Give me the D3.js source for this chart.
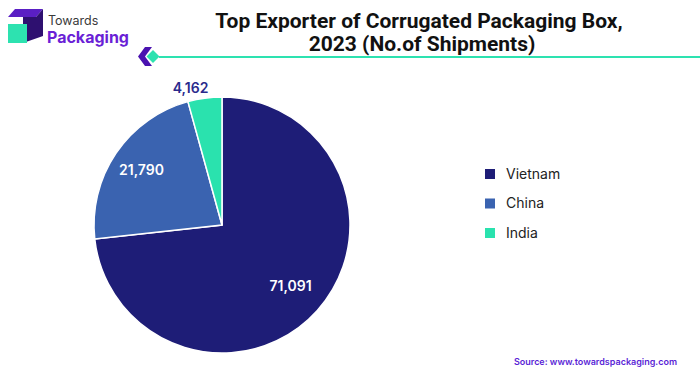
<!DOCTYPE html>
<html>
<head>
<meta charset="utf-8">
<script src="https://cdn.jsdelivr.net/npm/d3@7"></script>
<style>
  body { margin: 0; background: #fff; }
  svg { display: block; font-family: Inter, "Noto Sans", sans-serif; }
</style>
</head>
<body>
<div id="chart"></div>
<script>
const countries = ["Vietnam", "China", "India"];
const shipments = [71091, 21790, 4162];
const colors = ["#1e1d77", "#3a63b0", "#2ae2ae"];

const width = 700, height = 376;
const svg = d3.select("#chart").append("svg")
  .attr("width", width)
  .attr("height", height);

// logo
const logo = svg.append("g");
logo.append("path").attr("d", "M8,17 L15,9 L43,9 L36,17 Z").attr("fill", "#5a1fc4");
logo.append("path").attr("d", "M23,17 L36,17 L43,9 L43,36 L23,43 Z").attr("fill", "#2e1070");
logo.append("rect").attr("x", 8).attr("y", 24).attr("width", 19).attr("height", 19).attr("fill", "#2de2b0");
logo.append("text").attr("x", 48).attr("y", 25)
  .style("font-size", "12.5px").style("fill", "#3a3a3a").text("Towards");
logo.append("text").attr("x", 47).attr("y", 43)
  .style("font-size", "16px").style("font-weight", "700").style("fill", "#6a1fd6").text("Packaging");

// title
const title = svg.append("text")
  .attr("text-anchor", "middle")
  .style("font-family", "Roboto, sans-serif")
  .style("font-weight", "700")
  .style("font-size", "21px")
  .style("fill", "#111");
title.append("tspan").attr("x", 419).attr("y", 28).text("Top Exporter of Corrugated Packaging Box,");
title.append("tspan").attr("x", 422).attr("y", 51).text("2023 (No.of Shipments)");

// decoration under title
svg.append("path").attr("d", "M145,47 L152,47 L145,56.5 L152,66 L145,66 L138,56.5 Z").attr("fill", "#4a12b0");
svg.append("path").attr("d", "M153,50 L159.5,56.5 L153,63 L146.5,56.5 Z").attr("fill", "#2de2b0");
svg.append("line").attr("x1", 159).attr("x2", 700).attr("y1", 57).attr("y2", 57)
  .attr("stroke", "#2de2b0").attr("stroke-width", 2);

// pie
const cx = 222, cy = 225, r = 128;
const pie = d3.pie().sort(null).value(d => d)(shipments);
const arc = d3.arc().innerRadius(0).outerRadius(r);
const g = svg.append("g").attr("transform", `translate(${cx},${cy})`);
g.selectAll("path").data(pie).enter().append("path")
  .attr("d", arc)
  .attr("fill", (d, i) => colors[i])
  .attr("stroke", "#fff")
  .attr("stroke-width", 1.5);

const fmt = d3.format(",");
// label radius per slice (fraction of r)
const labelPos = [0.72, 0.76, 1.08];
g.selectAll("text.lbl").data(pie).enter().append("text")
  .attr("class", "lbl")
  .attr("transform", (d, i) => {
    const lr = r * labelPos[i];
    const c = d3.arc().innerRadius(lr).outerRadius(lr).centroid(d);
    return `translate(${c[0]},${c[1]})`;
  })
  .attr("text-anchor", (d, i) => i === 2 ? "end" : "middle")
  .attr("dx", (d, i) => i === 2 ? 5 : 0)
  .attr("dy", "0.35em")
  .style("font-size", "14px")
  .style("font-weight", "600")
  .style("fill", (d, i) => i === 2 ? "#2a2a8c" : "#fff")
  .text(d => fmt(d.data));

// legend
const legend = svg.append("g").attr("transform", "translate(485,174)");
const items = legend.selectAll("g").data(countries).enter().append("g")
  .attr("transform", (d, i) => `translate(0,${i * 29.5})`);
items.append("rect").attr("x", 0).attr("y", -5).attr("width", 10).attr("height", 10)
  .attr("fill", (d, i) => colors[i]);
items.append("text").attr("x", 21).attr("dy", "0.35em")
  .style("font-size", "14px").style("fill", "#222").text(d => d);

// source
svg.append("text").attr("x", 677).attr("y", 365).attr("text-anchor", "end")
  .style("font-size", "9px").style("font-weight", "600").style("fill", "#5a1fd6")
  .text("Source: www.towardspackaging.com");
</script>
</body>
</html>
